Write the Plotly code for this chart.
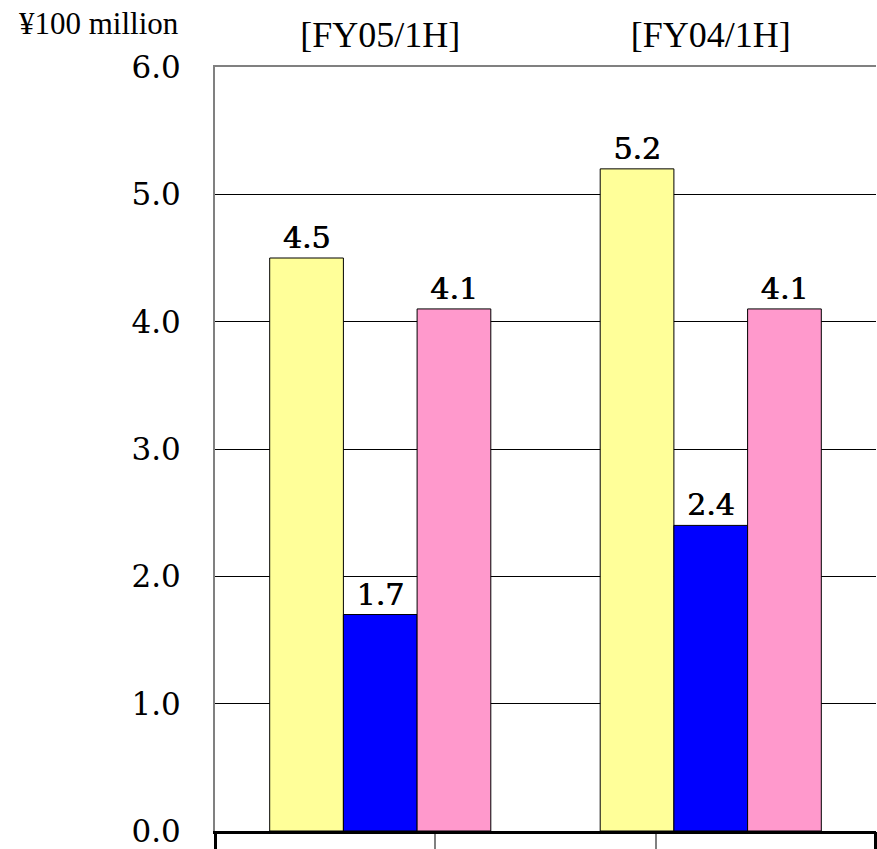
import plotly.graph_objects as go

categories = ["[FY05/1H]", "[FY04/1H]"]
series_a = [4.5, 5.2]   # yellow
series_b = [1.7, 2.4]   # blue
series_c = [4.1, 4.1]   # pink
y_ticks = [0, 1, 2, 3, 4, 5, 6]
y_tick_labels = ["0.0", "1.0", "2.0", "3.0", "4.0", "5.0", "6.0"]
unit_label = "¥100 million"

colors = ["#FFFF99", "#0000FF", "#FF99CC"]
W, H = 877, 849
L, R, T, B = 215, 1, 67, 18
plot_h = H - T - B
plot_w = W - L - R

fig = go.Figure()
for vals, col in zip([series_a, series_b, series_c], colors):
    fig.add_trace(go.Bar(
        x=categories, y=vals,
        marker=dict(color=col, line=dict(color="black", width=1)),
        text=[f"{v:.1f}" for v in vals], textposition="outside",
        textfont=dict(family="DejaVu Serif", size=30, color="black",
                      shadow="0.7px 0px 0px black"),
        cliponaxis=False, showlegend=False,
    ))

# invisible traces to activate helper axes
fig.add_trace(go.Scatter(x=[0, 3], y=[0, 0], xaxis="x2", mode="markers",
                         marker=dict(opacity=0), showlegend=False, hoverinfo="skip"))
fig.add_trace(go.Scatter(x=[0, 3], y=[0, 0], xaxis="x3", mode="markers",
                         marker=dict(opacity=0), showlegend=False, hoverinfo="skip"))

fig.update_layout(
    width=W, height=H,
    margin=dict(l=L, r=R, t=T, b=B, autoexpand=False),
    paper_bgcolor="white", plot_bgcolor="white",
    barmode="group", bargap=0.331, bargroupgap=0,
    font=dict(family="Liberation Serif", color="black"),
    xaxis=dict(
        side="top", showline=True, linecolor="#808080", linewidth=2,
        ticks="", showgrid=False, automargin=False,
        tickfont=dict(family="Liberation Serif", size=36, color="black"),
        ticklabelstandoff=4,
    ),
    xaxis2=dict(
        overlaying="x", side="bottom", range=[0, 3], showgrid=False, zeroline=False,
        showline=True, linecolor="black", linewidth=3, automargin=False,
        tickmode="array", tickvals=[1, 2], ticks="outside", ticklen=18,
        tickcolor="#808080", tickwidth=2, showticklabels=False,
    ),
    xaxis3=dict(
        overlaying="x", side="bottom", range=[0, 3], showgrid=False, zeroline=False,
        showline=False, automargin=False,
        tickmode="array", tickvals=[0, 2.997], ticks="outside", ticklen=18,
        tickcolor="black", tickwidth=3, showticklabels=False,
    ),
    yaxis=dict(
        range=[0, 6], tickmode="array", tickvals=y_ticks, ticktext=y_tick_labels,
        showline=True, linecolor="#808080", linewidth=2, automargin=False,
        showgrid=True, gridcolor="black", gridwidth=1, zeroline=False,
        ticks="", ticklabelstandoff=26,
        tickfont=dict(family="DejaVu Serif", size=31, color="black"),
    ),
    annotations=[dict(
        text=unit_label, xref="paper", yref="paper",
        x=(18 - L) / plot_w, y=1 + (T - 23) / plot_h,
        xanchor="left", yanchor="middle", showarrow=False, borderpad=0,
        font=dict(family="Liberation Serif", size=31, color="black"),
    )],
)

fig.write_html(
    "out.html",
    config={"displayModeBar": False},
    post_script="document.body.style.margin='0';document.body.style.overflow='hidden';",
)
